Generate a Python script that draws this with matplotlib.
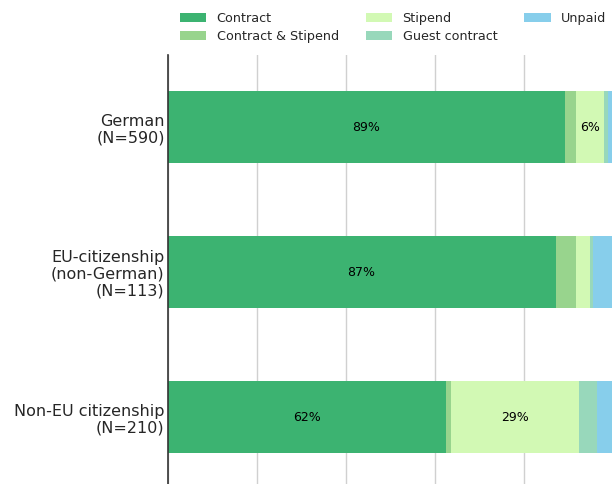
import matplotlib
matplotlib.use("Agg")
import matplotlib.pyplot as plt
import numpy as np

categories = ["German\n(N=590)", "EU-citizenship\n(non-German)\n(N=113)", "Non-EU citizenship\n(N=210)"]
series = ["Contract", "Contract & Stipend", "Stipend", "Guest contract", "Unpaid"]
contract = [89.4, 87.2, 62.5]
contract_stipend = [2.4, 4.6, 1.1]
stipend = [6.4, 3.2, 28.8]
guest = [0.8, 0.6, 4.2]
unpaid = [1.0, 4.4, 3.4]
colors = ["#3cb371", "#98d48d", "#d2f9b4", "#98d8bb", "#87ceeb"]

values = [contract, contract_stipend, stipend, guest, unpaid]

fig = plt.figure(figsize=(6.12, 4.84), dpi=100)
ax = fig.add_axes([167.5 / 612, -5.5 / 484, 445 / 612, 435 / 484])

y = np.arange(len(categories))
left = np.zeros(len(categories))
for name, vals, col in zip(series, values, colors):
    vals = np.array(vals)
    ax.barh(y, vals, left=left, height=0.5, color=col, label=name, zorder=2)
    for yi, (l, v) in enumerate(zip(left, vals)):
        if v >= 5:
            ax.text(l + v / 2, yi, f"{v:.0f}%", ha="center", va="center", fontsize=9, color="black", zorder=3)
    left += vals

ax.set_xlim(0, 100)
ax.set_ylim(2.5, -0.5)
ax.set_yticks(y)
ax.set_yticklabels(categories, fontsize=11.5, color="#262626", linespacing=1.15)
ax.tick_params(axis="y", length=0, pad=2)
ax.tick_params(axis="x", length=0, labelbottom=False)
ax.set_xticks([0, 20, 40, 60, 80, 100])
ax.grid(axis="x", color="#d0d0d0", linewidth=1, zorder=0)
for s in ["top", "right", "bottom"]:
    ax.spines[s].set_visible(False)
ax.spines["left"].set_color("#333333")
ax.spines["left"].set_linewidth(1.2)

fig.legend(loc="upper left", bbox_to_anchor=(168 / 612, 1.0), ncol=3, frameon=False,
           fontsize=9.2, handlelength=2.1, handleheight=0.7, columnspacing=2.1,
           labelspacing=0.45, handletextpad=0.8, labelcolor="#262626")

fig.savefig("out.png", dpi=100)
